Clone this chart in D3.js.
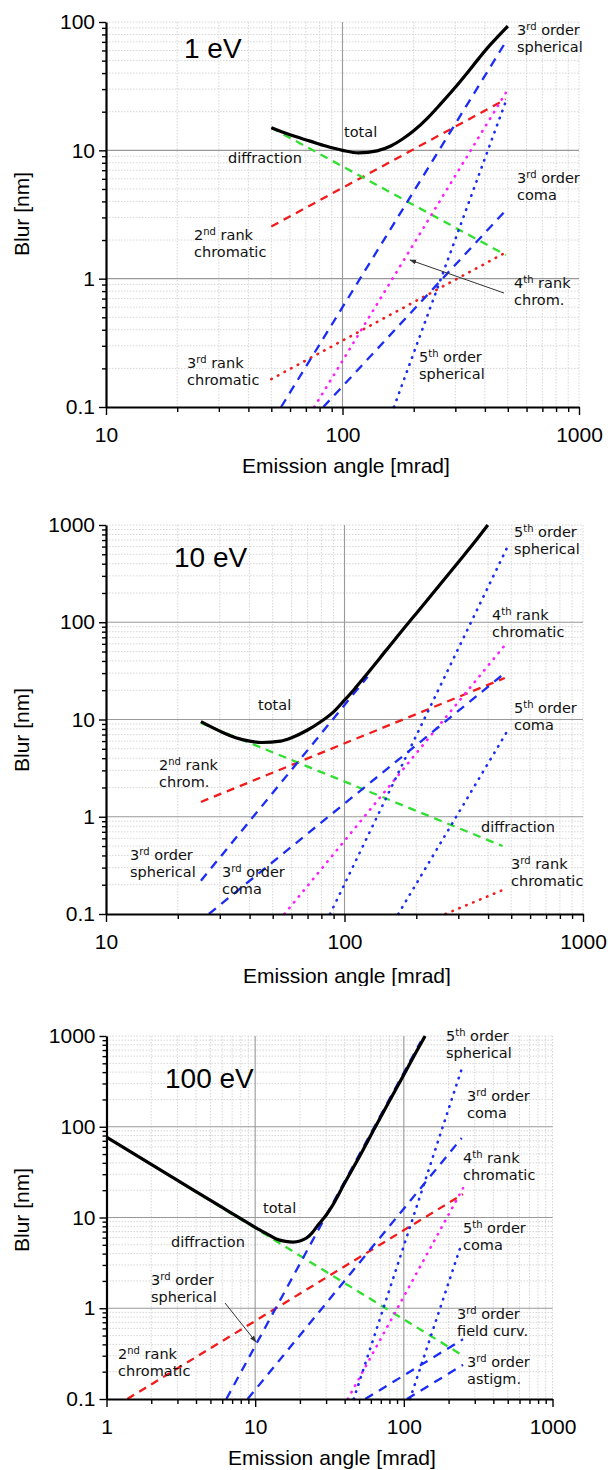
<!DOCTYPE html>
<html>
<head>
<meta charset="utf-8">
<script src="https://cdn.jsdelivr.net/npm/d3@7"></script>
<style>
  body { margin: 0; background: #fff; }
  svg { display: block; }
  .tick text { font-family: "Liberation Sans", Arial, sans-serif; font-size: 21px; fill: #000; }
  .tick line { stroke: #000; stroke-width: 1.4; }
  .domain { stroke: #000; stroke-width: 2.2; }
  .note { font-family: "DejaVu Sans", sans-serif; font-size: 14.5px; fill: #111; }
  .title { font-family: "Liberation Sans", Arial, sans-serif; font-size: 21px; fill: #000; }
  .energy { font-family: "Liberation Sans", Arial, sans-serif; font-size: 28px; fill: #000; }
</style>
</head>
<body>
<svg class="display"></svg>
<script>
// values: [emission angle (mrad), blur (nm)]

// 1 eV
const total1 = [[50,15],[60,13.2],[73,11.8],[85,10.8],[100,10],[117,9.55],[140,9.9],[160,10.8],[180,12.3],[200,14.2],[230,18],[260,23],[300,31],[340,41],[380,53],[420,66],[460,79],[500,93]];
const diffraction1 = [[50,15],[490,1.53]];
const chrom2nd1 = [[50,2.55],[490,25]];
const chrom3rd1 = [[50,0.165],[490,1.6]];
const chrom4th1 = [[76,0.1],[490,28]];
const spherical3rd1 = [[55,0.1],[490,70]];
const coma3rd1 = [[83,0.1],[490,3.4]];
const spherical5th1 = [[165,0.1],[490,24]];

// 10 eV
const total10 = [[25,9.5],[30,7.6],[35,6.5],[40,6.0],[45,5.8],[54,6.0],[60,6.5],[70,7.8],[80,9.6],[90,12],[100,15.8],[110,20.5],[120,26.5],[150,52],[183,95],[200,123],[250,240],[300,415],[350,660],[399,1000]];
const diffraction10 = [[25,9.2],[460,0.5]];
const chrom2nd10 = [[25,1.42],[470,26.7]];
const chrom3rd10 = [[265,0.1],[470,0.18]];
const chrom4th10 = [[56,0.1],[470,58]];
const spherical3rd10 = [[25,0.22],[125,27.5]];
const coma3rd10 = [[27,0.1],[470,30]];
const spherical5th10 = [[87,0.1],[483,600]];
const coma5th10 = [[168,0.1],[480,7.5]];

// 100 eV
const total100 = [[1,77],[2,38.5],[4,19.3],[6,12.9],[8,9.7],[10,7.8],[12,6.6],[14,5.75],[16,5.45],[18,5.35],[20,5.5],[22,5.9],[24,6.7],[27,8.6],[30,10.6],[33,13.4],[40,24],[50,46],[64,98],[80,192],[100,375],[120,650],[139,1000]];
const diffraction100 = [[1,77],[250,0.3]];
const chrom2nd100 = [[1.38,0.1],[250,18.1]];
const chrom4th100 = [[42,0.1],[250,21]];
const spherical3rd100 = [[6.4,0.1],[130,870]];
const coma3rd100 = [[8.9,0.1],[245,75]];
const fieldCurv3rd100 = [[55,0.1],[250,0.455]];
const astigm3rd100 = [[105,0.1],[250,0.238]];
const spherical5th100 = [[46,0.1],[245,433]];
const coma5th100 = [[110,0.1],[245,5.2]];

// line look for each term
const styles = {
  total:       { color: '#000', width: 3.2, dash: null },
  diffraction: { color: '#2fe02f', width: 2.3, dash: '8,6' },
  chrom2nd:    { color: '#f21a1a', width: 2.3, dash: '8,6' },
  chrom3rd:    { color: '#f21a1a', width: 2.6, dash: '0.5,7' },
  chrom4th:    { color: '#ff1cff', width: 2.6, dash: '0.5,7' },
  spherical3rd:{ color: '#1a2cf5', width: 2.3, dash: '9,7' },
  coma3rd:     { color: '#1a2cf5', width: 2.3, dash: '9,7' },
  fieldCurv3rd:{ color: '#1a2cf5', width: 2.3, dash: '9,7' },
  astigm3rd:   { color: '#1a2cf5', width: 2.3, dash: '9,7' },
  spherical5th:{ color: '#1a2cf5', width: 2.6, dash: '0.5,7' },
  coma5th:     { color: '#1a2cf5', width: 2.6, dash: '0.5,7' }
};

const panels = [
  {
    energy: '1 eV', energyPos: [184, 58],
    left: 106, top: 22, width: 473, height: 385,
    xDomain: [10, 1000], yDomain: [0.1, 100],
    xTitle: [346, 473], yTitle: [29, 214],
    series: [
      ['chrom3rd', chrom3rd1], ['chrom2nd', chrom2nd1], ['diffraction', diffraction1],
      ['chrom4th', chrom4th1], ['spherical5th', spherical5th1], ['coma3rd', coma3rd1],
      ['spherical3rd', spherical3rd1], ['total', total1]
    ],
    notes: [
      [['3rd order', 'spherical'], 517, 35],
      [['total'], 344, 137],
      [['diffraction'], 228, 163],
      [['3rd order', 'coma'], 517, 183],
      [['2nd rank', 'chromatic'], 194, 240],
      [['4th rank', 'chrom.'], 514, 288],
      [['3rd rank', 'chromatic'], 187, 368],
      [['5th order', 'spherical'], 419, 362]
    ],
    arrows: [[504, 293, 410, 260]]
  },
  {
    energy: '10 eV', energyPos: [174, 567],
    left: 106, top: 525, width: 477, height: 389,
    xDomain: [10, 1000], yDomain: [0.1, 1000],
    xTitle: [347, 983], yTitle: [29, 730], clipBottom: 986,
    series: [
      ['chrom3rd', chrom3rd10], ['chrom2nd', chrom2nd10], ['diffraction', diffraction10],
      ['chrom4th', chrom4th10], ['spherical5th', spherical5th10], ['coma5th', coma5th10],
      ['coma3rd', coma3rd10], ['spherical3rd', spherical3rd10], ['total', total10]
    ],
    notes: [
      [['5th order', 'spherical'], 514, 537],
      [['4th rank', 'chromatic'], 492, 620],
      [['5th order', 'coma'], 514, 713],
      [['total'], 258, 710],
      [['2nd rank', 'chrom.'], 159, 770],
      [['diffraction'], 481, 832],
      [['3rd order', 'spherical'], 130, 860],
      [['3rd order', 'coma'], 222, 877],
      [['3rd rank', 'chromatic'], 511, 869]
    ],
    arrows: []
  },
  {
    energy: '100 eV', energyPos: [165, 1088],
    left: 106.5, top: 1036, width: 446, height: 363,
    xDomain: [1, 1000], yDomain: [0.1, 1000],
    xTitle: [332, 1465], yTitle: [29, 1210],
    series: [
      ['chrom2nd', chrom2nd100], ['diffraction', diffraction100], ['chrom4th', chrom4th100],
      ['spherical5th', spherical5th100], ['coma5th', coma5th100], ['fieldCurv3rd', fieldCurv3rd100],
      ['astigm3rd', astigm3rd100], ['coma3rd', coma3rd100], ['spherical3rd', spherical3rd100],
      ['total', total100]
    ],
    notes: [
      [['5th order', 'spherical'], 446, 1041],
      [['3rd order', 'coma'], 467, 1101],
      [['4th rank', 'chromatic'], 463, 1163],
      [['5th order', 'coma'], 463, 1233],
      [['total'], 263, 1213],
      [['diffraction'], 171, 1247],
      [['3rd order', 'spherical'], 151, 1285],
      [['2nd rank', 'chromatic'], 118, 1359],
      [['3rd order', 'field curv.'], 457, 1319],
      [['3rd order', 'astigm.'], 467, 1367]
    ],
    arrows: [[225, 1303, 256, 1342]]
  }
];

const width = 608;
const height = 1470;

const svg = d3.select('.display')
  .attr('width', width)
  .attr('height', height);

svg.append('defs').append('marker')
    .attr('id', 'head')
    .attr('viewBox', '0 0 10 10')
    .attr('refX', 9).attr('refY', 5)
    .attr('markerWidth', 7).attr('markerHeight', 7)
    .attr('orient', 'auto')
  .append('path')
    .attr('d', 'M0,1.5L10,5L0,8.5Z')
    .attr('fill', '#333');

panels.forEach((p, i) => drawPanel(p, i));

function drawPanel(p, idx) {
  let root = svg.append('g');
  if (p.clipBottom) {
    svg.select('defs').append('clipPath').attr('id', 'clip' + idx)
      .append('rect').attr('x', 0).attr('y', 0).attr('width', width).attr('height', p.clipBottom);
    root.attr('clip-path', 'url(#clip' + idx + ')');
  }

  const g = root.append('g')
    .attr('transform', 'translate(' + p.left + ',' + p.top + ')');

  const x = d3.scaleLog().domain(p.xDomain).range([0, p.width]);
  const y = d3.scaleLog().domain(p.yDomain).range([p.height, 0]);

  const isMajor = v => Math.abs(Math.log10(v) - Math.round(Math.log10(v))) < 1e-9;
  const xAll = x.ticks(), yAll = y.ticks();
  const xMajor = xAll.filter(isMajor), yMajor = yAll.filter(isMajor);
  const xMinor = xAll.filter(v => !isMajor(v)), yMinor = yAll.filter(v => !isMajor(v));

  // grid
  const grid = g.append('g');
  grid.selectAll('.vminor').data(xMinor.concat([p.xDomain[1]])).enter().append('line')
      .attr('x1', d => x(d)).attr('x2', d => x(d))
      .attr('y1', 0).attr('y2', p.height)
      .attr('stroke', '#d6d6d6').attr('stroke-width', 1).attr('stroke-dasharray', '1.5,1.5');
  grid.selectAll('.hminor').data(yMinor.concat([p.yDomain[1]])).enter().append('line')
      .attr('y1', d => y(d)).attr('y2', d => y(d))
      .attr('x1', 0).attr('x2', p.width)
      .attr('stroke', '#d6d6d6').attr('stroke-width', 1).attr('stroke-dasharray', '1.5,1.5');
  grid.selectAll('.vmajor').data(xMajor.filter(d => d > p.xDomain[0] && d < p.xDomain[1])).enter().append('line')
      .attr('x1', d => x(d)).attr('x2', d => x(d))
      .attr('y1', 0).attr('y2', p.height)
      .attr('stroke', '#999').attr('stroke-width', 1.1);
  grid.selectAll('.hmajor').data(yMajor.filter(d => d > p.yDomain[0] && d < p.yDomain[1])).enter().append('line')
      .attr('y1', d => y(d)).attr('y2', d => y(d))
      .attr('x1', 0).attr('x2', p.width)
      .attr('stroke', '#999').attr('stroke-width', 1.1);

  // curves
  const line = d3.line().x(d => x(d[0])).y(d => y(d[1])).curve(d3.curveMonotoneX);
  g.selectAll('.series').data(p.series).enter().append('path')
      .attr('d', d => line(d[1]))
      .attr('fill', 'none')
      .attr('stroke', d => styles[d[0]].color)
      .attr('stroke-width', d => styles[d[0]].width)
      .attr('stroke-dasharray', d => styles[d[0]].dash)
      .attr('stroke-linecap', d => styles[d[0]].dash && styles[d[0]].dash.startsWith('0.5') ? 'round' : 'butt');

  // axes
  g.append('g').attr('transform', 'translate(0,' + p.height + ')')
      .call(d3.axisBottom(x).tickValues(xMinor).tickSize(5).tickSizeOuter(0).tickFormat(''))
      .call(a => a.select('.domain').remove());
  g.append('g').attr('transform', 'translate(0,' + p.height + ')')
      .call(d3.axisBottom(x).tickValues(xMajor).tickSize(8).tickSizeOuter(0).tickPadding(12).tickFormat(d3.format('~g')));
  g.append('g')
      .call(d3.axisLeft(y).tickValues(yMinor).tickSize(4).tickSizeOuter(0).tickFormat(''))
      .call(a => a.select('.domain').remove());
  g.append('g')
      .call(d3.axisLeft(y).tickValues(yMajor).tickSize(7).tickSizeOuter(0).tickPadding(4).tickFormat(d3.format('~g')));

  // titles
  root.append('text').attr('class', 'title')
      .attr('x', p.xTitle[0]).attr('y', p.xTitle[1])
      .attr('text-anchor', 'middle')
      .text('Emission angle [mrad]');
  root.append('text').attr('class', 'title')
      .attr('transform', 'translate(' + p.yTitle[0] + ',' + p.yTitle[1] + ') rotate(-90)')
      .attr('text-anchor', 'middle')
      .text('Blur [nm]');
  root.append('text').attr('class', 'energy')
      .attr('x', p.energyPos[0]).attr('y', p.energyPos[1])
      .text(p.energy);

  // annotations
  p.notes.forEach(n => addNote(root, n[0], n[1], n[2]));
  p.arrows.forEach(a => {
    root.append('line')
      .attr('x1', a[0]).attr('y1', a[1]).attr('x2', a[2]).attr('y2', a[3])
      .attr('stroke', '#333').attr('stroke-width', 1)
      .attr('marker-end', 'url(#head)');
  });
}

function addNote(parent, lines, x0, y0) {
  const t = parent.append('text').attr('class', 'note');
  lines.forEach((ln, i) => {
    const m = ln.match(/^(\d)(st|nd|rd|th)(.*)$/);
    if (m) {
      t.append('tspan').attr('x', x0).attr('y', y0 + i * 17.3).text(m[1]);
      t.append('tspan').attr('font-size', 10).attr('dy', -5).text(m[2]);
      t.append('tspan').attr('dy', 5).text(m[3]);
    } else {
      t.append('tspan').attr('x', x0).attr('y', y0 + i * 17.3).text(ln);
    }
  });
}
</script>
</body>
</html>
